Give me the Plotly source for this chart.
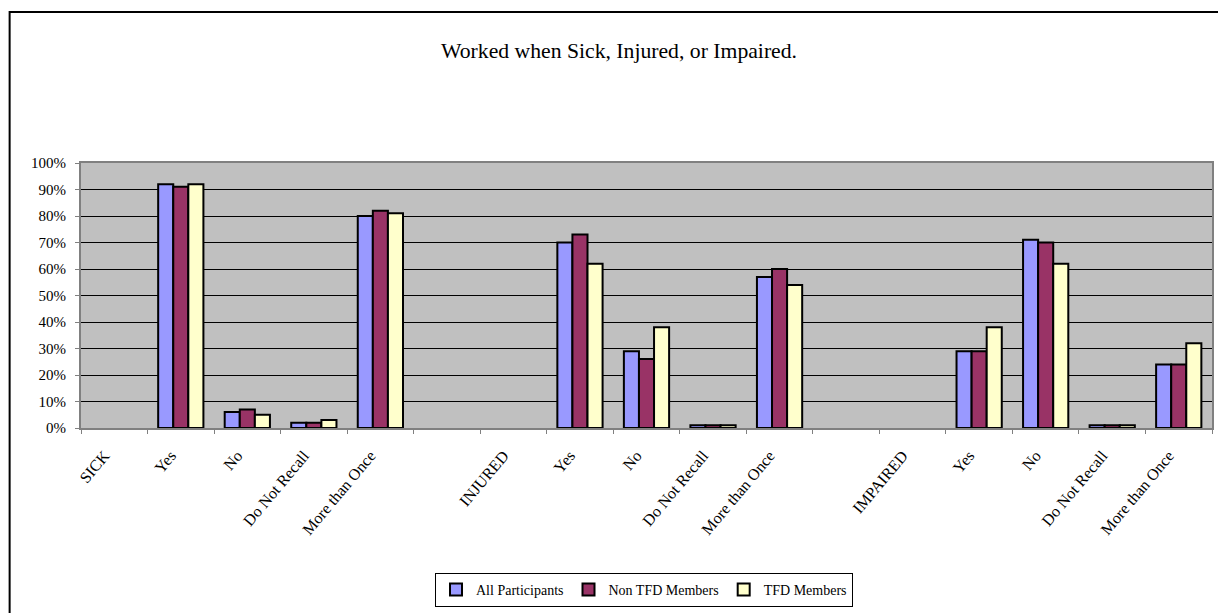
import plotly.graph_objects as go

categories = ["SICK", "Yes", "No", "Do Not Recall", "More than Once", "",
              "INJURED", "Yes", "No", "Do Not Recall", "More than Once", "",
              "IMPAIRED", "Yes", "No", "Do Not Recall", "More than Once"]

all_participants = [None, 92, 6, 2, 80, None, None, 70, 29, 1, 57, None, None, 29, 71, 1, 24]
non_tfd_members = [None, 91, 7, 2, 82, None, None, 73, 26, 1, 60, None, None, 29, 70, 1, 24]
tfd_members = [None, 92, 5, 3, 81, None, None, 62, 38, 1, 54, None, None, 38, 62, 1, 32]

series = [
    ("All Participants", all_participants, "#9999FF"),
    ("Non TFD Members", non_tfd_members, "#993366"),
    ("TFD Members", tfd_members, "#FFFFCC"),
]

ids = [f"c{i}" for i in range(len(categories))]

fig = go.Figure()
for name, vals, color in series:
    fig.add_trace(go.Bar(
        x=ids, y=vals, name=name,
        marker=dict(color=color, line=dict(color="black", width=2)),
    ))

serif = "Liberation Serif, Times New Roman, serif"
L, R, T, B = 81, 4, 163, 185
W, H = 1218, 613
pw, ph = W - L - R, H - T - B

fig.update_layout(
    width=W, height=H,
    margin=dict(l=L, r=R, t=T, b=B, pad=0),
    paper_bgcolor="white",
    plot_bgcolor="#C0C0C0",
    barmode="group",
    bargap=0.32,
    bargroupgap=0,
    font=dict(family=serif, color="black", size=14),
    title=dict(text="Worked when Sick, Injured, or Impaired.",
               x=619 / W, xanchor="center", y=1 - 50 / H, yanchor="middle",
               font=dict(family=serif, size=21.7, color="black")),
    legend=dict(orientation="h", x=(645 - L) / pw, xanchor="center",
                y=(ph - (590 - T)) / ph, yanchor="middle",
                bordercolor="black", borderwidth=1,
                font=dict(family=serif, size=14, color="black"),
                itemwidth=30, tracegroupgap=0, bgcolor="white"),
    xaxis=dict(type="category", tickmode="array", tickvals=ids, ticktext=categories,
               tickangle=-50, tickson="boundaries", ticks="outside", ticklen=4,
               tickcolor="#808080", showline=True, linecolor="#808080", linewidth=2,
               mirror=True, showgrid=False, tickfont=dict(family=serif, size=16),
               ticklabelstandoff=10, ticklabelshift=-10, range=[-0.5, 16.5]),
    yaxis=dict(range=[0, 100], dtick=10, ticksuffix="%", ticks="outside", ticklen=4,
               tickcolor="#808080", showline=True, linecolor="#808080", linewidth=2,
               mirror=True, showgrid=True, gridcolor="black", gridwidth=1,
               zeroline=False, tickfont=dict(family=serif, size=15),
               ticklabelstandoff=6),
    shapes=[dict(type="rect", xref="paper", yref="paper",
                 x0=(9.5 - L) / pw, x1=(W + 5 - L) / pw,
                 y0=(ph - (H + 5 - T)) / ph, y1=(ph - (12 - T)) / ph,
                 line=dict(color="black", width=2), fillcolor="rgba(0,0,0,0)",
                 layer="below")],
)

fig.write_html("out.html", config={"displayModeBar": False},
               post_script="document.body.style.margin='0px';document.body.style.padding='0px';")
